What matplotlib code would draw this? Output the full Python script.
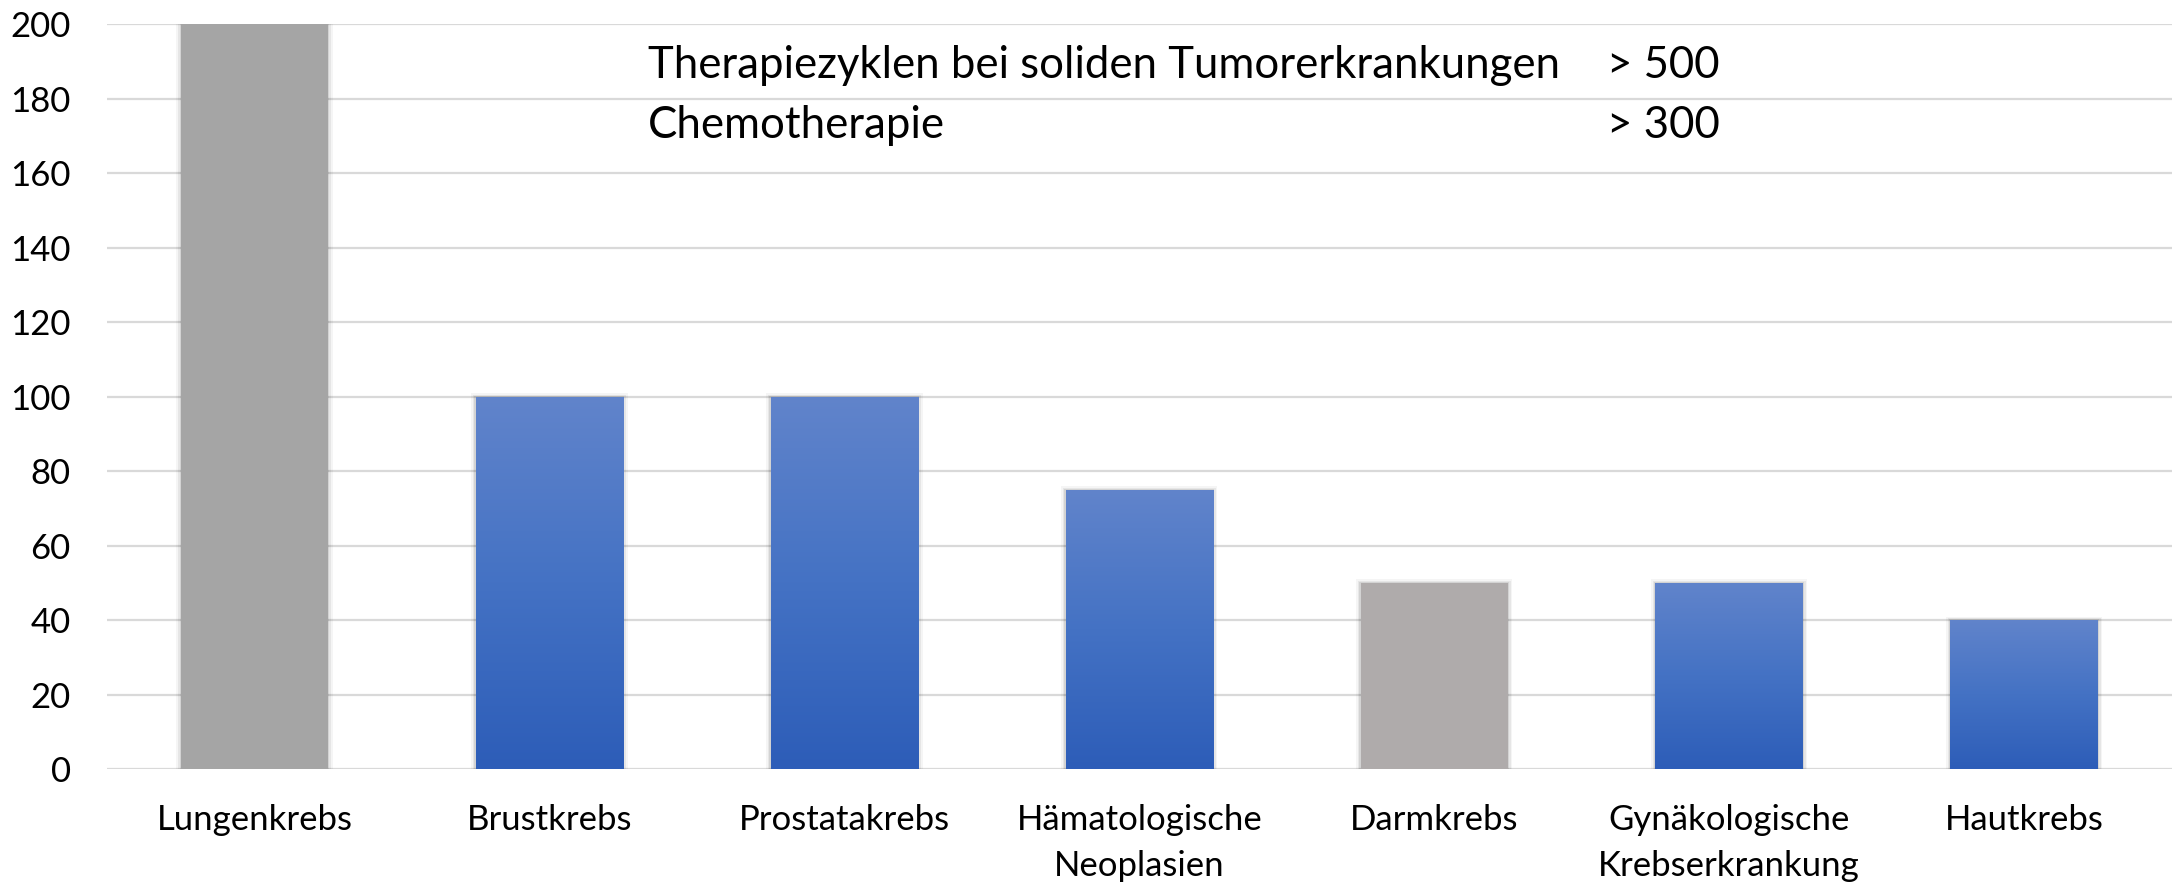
import matplotlib
matplotlib.use("Agg")
import matplotlib.pyplot as plt
import numpy as np
from matplotlib.colors import LinearSegmentedColormap

plt.rcParams['font.family'] = ['Lato', 'DejaVu Sans']

categories = ['Lungenkrebs', 'Brustkrebs', 'Prostatakrebs', 'Hämatologische\nNeoplasien',
              'Darmkrebs', 'Gynäkologische\nKrebserkrankung', 'Hautkrebs']
values = [200, 100, 100, 75, 50, 50, 40]
# grey bars are solid, the rest get the blue gradient
solid_colors = {0: '#A5A5A5', 4: '#AFABAB'}
yticks = [0, 20, 40, 60, 80, 100, 120, 140, 160, 180, 200]
note_labels = ['Therapiezyklen bei soliden Tumorerkrankungen', 'Chemotherapie']
note_values = ['> 500', '> 300']

fig = plt.figure(figsize=(21.78, 8.82), dpi=100)
ax = fig.add_axes([0.0491, 0.128, 0.948, 0.8448])

x = np.arange(len(categories))
width = 0.5

# soft shadow behind the bars
for grow, a in [(0.03, 0.04), (0.018, 0.06), (0.008, 0.08)]:
    ax.bar(x, np.array(values) + grow * 30, width + grow, color='black', alpha=a,
           linewidth=0, zorder=2)

blues = LinearSegmentedColormap.from_list('b', ['#2D5DB8', '#4472C4', '#6184CB'])
grad = np.linspace(0, 1, 256).reshape(-1, 1)

bars = ax.bar(x, values, width, linewidth=0, zorder=3)
for i, rect in enumerate(bars):
    if i in solid_colors:
        rect.set_facecolor(solid_colors[i])
    else:
        rect.set_facecolor('none')
        x0, w, h = rect.get_x(), rect.get_width(), rect.get_height()
        im = ax.imshow(grad, cmap=blues, aspect='auto', origin='lower',
                       extent=(x0, x0 + w, 0, h), zorder=3)
        im.set_clip_path(rect)

ax.set_xlim(-0.5, len(categories) - 0.5)
ax.set_ylim(0, 200)
ax.set_yticks(yticks)
ax.set_xticks(x)
ax.set_xticklabels(categories, fontsize=25, linespacing=1.55)
ax.tick_params(axis='y', labelsize=25, length=0, pad=26)
ax.tick_params(axis='x', length=0, pad=25)
ax.yaxis.grid(True, color='#D9D9D9', linewidth=1.6, zorder=0)
ax.set_axisbelow(True)
for s in ax.spines.values():
    s.set_visible(False)

for k, (lab, val) in enumerate(zip(note_labels, note_values)):
    yy = 0.926 - k * 0.068
    fig.text(648 / 2178, yy, lab, fontsize=31.5, va='center', ha='left')
    fig.text(1607 / 2178, yy, val, fontsize=31.5, va='center', ha='left')

plt.savefig("out.png", dpi=100)
